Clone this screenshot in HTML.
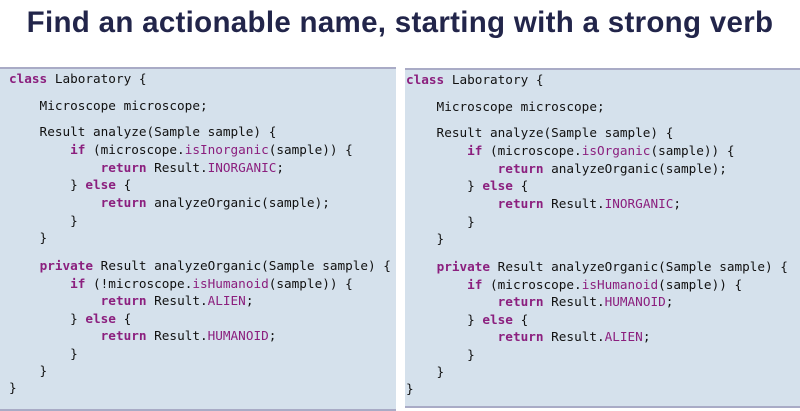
<!DOCTYPE html>
<html><head><meta charset="utf-8"><style>
body{margin:0;width:800px;height:411px;background:#fff;position:relative;overflow:hidden}
h1{position:absolute;top:6px;left:0;width:800px;margin:0;text-align:center;font:bold 29.5px "Liberation Sans",sans-serif;color:#22254a;letter-spacing:0.3px}
.p{position:absolute;background:#d5e1ec;border-top:2px solid #a9abc6;border-bottom:2px solid #a9abc6}
.l{position:absolute;white-space:pre;font:12.7px "DejaVu Sans Mono",monospace;color:#111}
.k{color:#8b1f7e;font-weight:bold}.m{color:#8b1f7e}
</style></head><body>
<h1>Find an actionable name, starting with a strong verb</h1>
<div class="p" style="left:0;top:67px;width:396px;height:340px"></div>
<div class="p" style="left:405px;top:68px;width:395px;height:336px"></div>
<div id="L"></div>
<script>
const ys=[82,109,135,153,171,188,206,224,241,269,287,304,322,339,357,374,391];
const A=['<span class="k">class</span> Laboratory {','    Microscope microscope;','    Result analyze(Sample sample) {','        <span class="k">if</span> (microscope.<span class="m">isInorganic</span>(sample)) {','            <span class="k">return</span> Result.<span class="m">INORGANIC</span>;','        } <span class="k">else</span> {','            <span class="k">return</span> analyzeOrganic(sample);','        }','    }','    <span class="k">private</span> Result analyzeOrganic(Sample sample) {','        <span class="k">if</span> (!microscope.<span class="m">isHumanoid</span>(sample)) {','            <span class="k">return</span> Result.<span class="m">ALIEN</span>;','        } <span class="k">else</span> {','            <span class="k">return</span> Result.<span class="m">HUMANOID</span>;','        }','    }','}'];
const B=['<span class="k">class</span> Laboratory {','    Microscope microscope;','    Result analyze(Sample sample) {','        <span class="k">if</span> (microscope.<span class="m">isOrganic</span>(sample)) {','            <span class="k">return</span> analyzeOrganic(sample);','        } <span class="k">else</span> {','            <span class="k">return</span> Result.<span class="m">INORGANIC</span>;','        }','    }','    <span class="k">private</span> Result analyzeOrganic(Sample sample) {','        <span class="k">if</span> (microscope.<span class="m">isHumanoid</span>(sample)) {','            <span class="k">return</span> Result.<span class="m">HUMANOID</span>;','        } <span class="k">else</span> {','            <span class="k">return</span> Result.<span class="m">ALIEN</span>;','        }','    }','}'];
let h='';
ys.forEach((y,i)=>{h+=`<div class="l" style="left:9px;top:${y-11}px">${A[i]}</div><div class="l" style="left:406px;top:${y-10}px">${B[i]}</div>`;});
document.getElementById('L').innerHTML=h;
</script>
</body></html>
